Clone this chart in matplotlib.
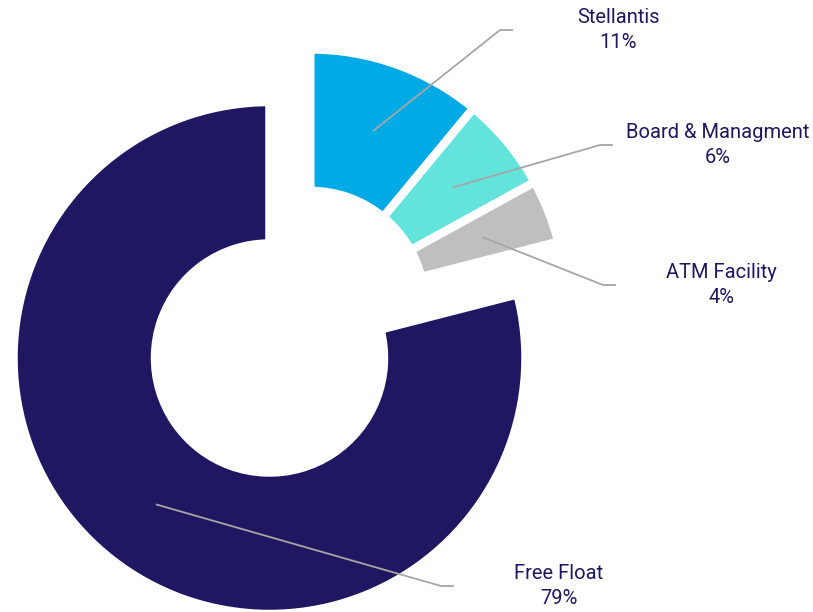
import numpy as np
import matplotlib
matplotlib.use('Agg')
import matplotlib.pyplot as plt

# shareholder structure
labels = ['Stellantis', 'Board & Managment', 'ATM Facility', 'Free Float']
shares = [11, 6, 4, 79]
colors = ['#00aae4', '#62e3dc', '#bfbfbf', '#1f1761']
pulled = [True, True, True, False]  # small holders pulled out as one group

# where each leader line bends (pixel coords, y up)
elbows = [(500, 582), (600, 467), (603, 327), (441, 26)]

plt.rcParams['font.family'] = ['Roboto', 'DejaVu Sans']
text_color = '#1f1761'
line_color = '#a6a6a6'

fig = plt.figure(figsize=(8.13, 6.12), dpi=100)
ax = fig.add_axes([0, 0, 1, 1])

center = (269.5, 254)
R = 256
ring = 141.5

wedges, _ = ax.pie(shares, radius=R, center=center, startangle=90,
                   counterclock=False, colors=colors,
                   wedgeprops=dict(width=ring, edgecolor='white', linewidth=6.1))

# shift the pulled group along its middle angle
grp = [w for w, p in zip(wedges, pulled) if p]
lo = min(w.theta1 for w in grp)
hi = max(w.theta2 for w in grp)
mid = np.radians((lo + hi) / 2)
dist = 0.26 * R
for w in grp:
    w.set_center((center[0] + dist * np.cos(mid), center[1] + dist * np.sin(mid)))

# leader lines + labels
for w, lab, val, (ex, ey) in zip(wedges, labels, shares, elbows):
    a = np.radians((w.theta1 + w.theta2) / 2)
    r = R - ring / 2
    cx, cy = w.center
    sx, sy = cx + r * np.cos(a), cy + r * np.sin(a)
    ax.plot([sx, ex, ex + 13], [sy, ey, ey], color=line_color, lw=1.3,
            solid_capstyle='butt')
    ax.text(ex + 13 + 105, ey, f'{lab}\n{val}%', ha='center', va='center',
            fontsize=14.5, color=text_color, linespacing=1.4)

ax.set_xlim(0, 813)
ax.set_ylim(0, 612)
ax.axis('off')

fig.savefig('out.png', dpi=100)
